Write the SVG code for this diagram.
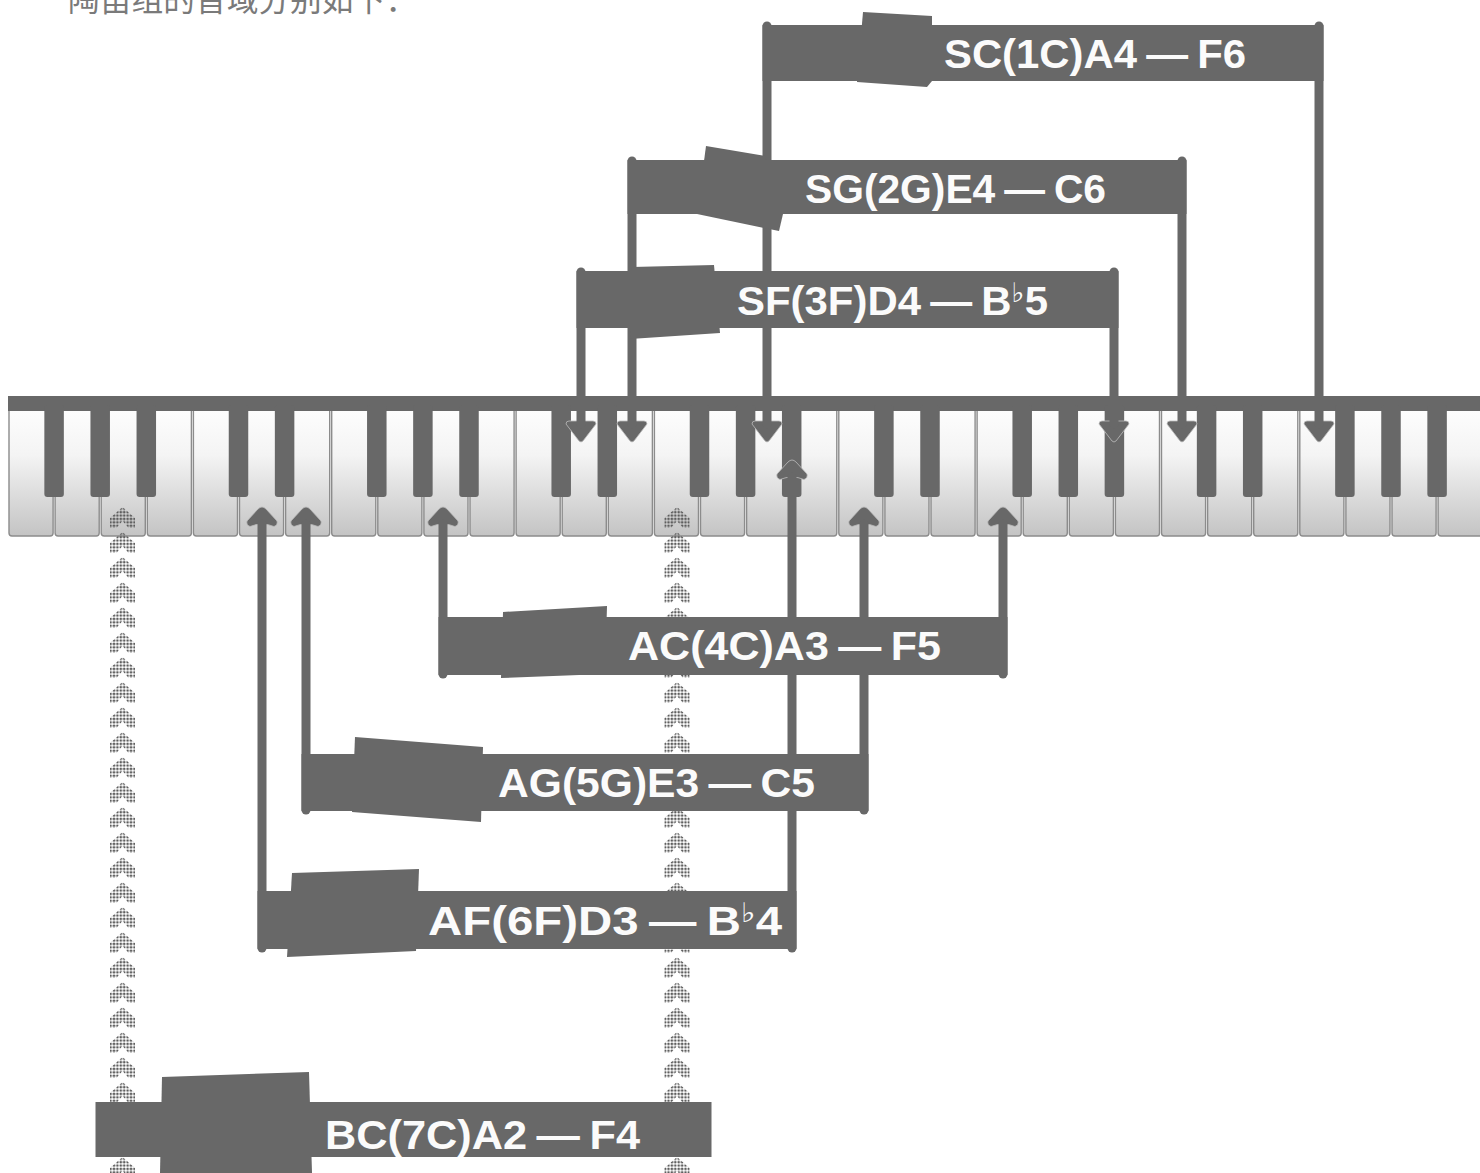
<svg xmlns="http://www.w3.org/2000/svg" xmlns:xlink="http://www.w3.org/1999/xlink" width="1480" height="1173" viewBox="0 0 1480 1173">
<style>
.wk{fill:url(#wkg);stroke:#8c8c8c;stroke-width:1.4}
.bk{fill:#686868}
.dark{fill:#686868}
.lbl{font-family:"Liberation Sans","Noto Sans",Arial,sans-serif;font-weight:bold;font-size:41px;fill:#fbfbfb}
.flat{font-family:"DejaVu Sans","Noto Sans",sans-serif;font-size:27px;font-weight:bold}
.conn{stroke:#686868;stroke-width:9;stroke-linecap:round;fill:none}
.head{fill:#686868;stroke:#bdbdbd;stroke-width:0.8}
</style>
<defs>
<linearGradient id="wkg" gradientUnits="userSpaceOnUse" x1="0" y1="411" x2="0" y2="537">
<stop offset="0" stop-color="#fdfdfd"/>
<stop offset="0.35" stop-color="#f4f4f4"/>
<stop offset="1" stop-color="#c3c3c3"/>
</linearGradient>
<pattern id="dots" patternUnits="userSpaceOnUse" width="3.4" height="3.4">
<circle cx="1.7" cy="1.7" r="1.35" fill="#5e5e5e"/>
</pattern>
<path id="chevron" d="M0,0 L12.5,11 L12.5,21 L6,21 L0,14 L-6,21 L-12.5,21 L-12.5,11 Z"/>
<pattern id="chev" patternUnits="userSpaceOnUse" x="0" y="507" width="1480" height="25">
<use xlink:href="#chevron" x="122.5" y="0" fill="url(#dots)"/>
<use xlink:href="#chevron" x="677" y="0" fill="url(#dots)"/>
</pattern>
<path id="ad" d="M-15,3 Q-15,0 -12,0 L12,0 Q15,0 15,3 L2,20 Q0,22 -2,20 Z"/>
<path id="au" d="M0,0 Q2,0 4,2 L15,14 Q16,18 12,19.5 Q6,17 0,17 Q-6,17 -12,19.5 Q-16,18 -15,14 L-4,2 Q-2,0 0,0 Z"/>
</defs>

<rect width="1480" height="1173" fill="#ffffff"/>

<text x="68" y="11" font-family="'Noto Sans CJK SC','Noto Sans',sans-serif" font-size="32" fill="#7a7a7a" textLength="349" lengthAdjust="spacingAndGlyphs">陶笛组的音域分别如下：</text>

<g id="keyboard">
<rect class="wk" x="9" y="404" width="44.1" height="132" rx="3"/>
<rect class="wk" x="55.1" y="404" width="44.1" height="132" rx="3"/>
<rect class="wk" x="101.2" y="404" width="44.1" height="132" rx="3"/>
<rect class="wk" x="147.3" y="404" width="44.1" height="132" rx="3"/>
<rect class="wk" x="193.4" y="404" width="44.1" height="132" rx="3"/>
<rect class="wk" x="239.5" y="404" width="44.1" height="132" rx="3"/>
<rect class="wk" x="285.6" y="404" width="44.1" height="132" rx="3"/>
<rect class="wk" x="331.7" y="404" width="44.1" height="132" rx="3"/>
<rect class="wk" x="377.8" y="404" width="44.1" height="132" rx="3"/>
<rect class="wk" x="423.9" y="404" width="44.1" height="132" rx="3"/>
<rect class="wk" x="470" y="404" width="44.1" height="132" rx="3"/>
<rect class="wk" x="516.1" y="404" width="44.1" height="132" rx="3"/>
<rect class="wk" x="562.2" y="404" width="44.1" height="132" rx="3"/>
<rect class="wk" x="608.3" y="404" width="44.1" height="132" rx="3"/>
<rect class="wk" x="654.4" y="404" width="44.1" height="132" rx="3"/>
<rect class="wk" x="700.5" y="404" width="44.1" height="132" rx="3"/>
<rect class="wk" x="746.6" y="404" width="44.1" height="132" rx="3"/>
<rect class="wk" x="792.7" y="404" width="44.1" height="132" rx="3"/>
<rect class="wk" x="838.8" y="404" width="44.1" height="132" rx="3"/>
<rect class="wk" x="884.9" y="404" width="44.1" height="132" rx="3"/>
<rect class="wk" x="931" y="404" width="44.1" height="132" rx="3"/>
<rect class="wk" x="977.1" y="404" width="44.1" height="132" rx="3"/>
<rect class="wk" x="1023.2" y="404" width="44.1" height="132" rx="3"/>
<rect class="wk" x="1069.3" y="404" width="44.1" height="132" rx="3"/>
<rect class="wk" x="1115.4" y="404" width="44.1" height="132" rx="3"/>
<rect class="wk" x="1161.5" y="404" width="44.1" height="132" rx="3"/>
<rect class="wk" x="1207.6" y="404" width="44.1" height="132" rx="3"/>
<rect class="wk" x="1253.7" y="404" width="44.1" height="132" rx="3"/>
<rect class="wk" x="1299.8" y="404" width="44.1" height="132" rx="3"/>
<rect class="wk" x="1345.9" y="404" width="44.1" height="132" rx="3"/>
<rect class="wk" x="1392" y="404" width="44.1" height="132" rx="3"/>
<rect class="wk" x="1438.1" y="404" width="44.1" height="132" rx="3"/>
<rect class="dark" x="8" y="396" width="1474" height="15"/>
<rect class="bk" x="44.35" y="405" width="19.5" height="92" rx="3"/>
<rect class="bk" x="90.45" y="405" width="19.5" height="92" rx="3"/>
<rect class="bk" x="136.55" y="405" width="19.5" height="92" rx="3"/>
<rect class="bk" x="228.75" y="405" width="19.5" height="92" rx="3"/>
<rect class="bk" x="274.85" y="405" width="19.5" height="92" rx="3"/>
<rect class="bk" x="367.05" y="405" width="19.5" height="92" rx="3"/>
<rect class="bk" x="413.15" y="405" width="19.5" height="92" rx="3"/>
<rect class="bk" x="459.25" y="405" width="19.5" height="92" rx="3"/>
<rect class="bk" x="551.45" y="405" width="19.5" height="92" rx="3"/>
<rect class="bk" x="597.55" y="405" width="19.5" height="92" rx="3"/>
<rect class="bk" x="689.75" y="405" width="19.5" height="92" rx="3"/>
<rect class="bk" x="735.85" y="405" width="19.5" height="92" rx="3"/>
<rect class="bk" x="781.95" y="405" width="19.5" height="92" rx="3"/>
<rect class="bk" x="874.15" y="405" width="19.5" height="92" rx="3"/>
<rect class="bk" x="920.25" y="405" width="19.5" height="92" rx="3"/>
<rect class="bk" x="1012.45" y="405" width="19.5" height="92" rx="3"/>
<rect class="bk" x="1058.55" y="405" width="19.5" height="92" rx="3"/>
<rect class="bk" x="1104.65" y="405" width="19.5" height="92" rx="3"/>
<rect class="bk" x="1196.85" y="405" width="19.5" height="92" rx="3"/>
<rect class="bk" x="1242.95" y="405" width="19.5" height="92" rx="3"/>
<rect class="bk" x="1335.15" y="405" width="19.5" height="92" rx="3"/>
<rect class="bk" x="1381.25" y="405" width="19.5" height="92" rx="3"/>
<rect class="bk" x="1427.35" y="405" width="19.5" height="92" rx="3"/>
</g>

<g id="connectors">
<rect x="108" y="507" width="584" height="666" fill="url(#chev)"/>
<use class="head" xlink:href="#ad" x="767" y="421"/>
<use class="head" xlink:href="#ad" x="1319" y="421"/>
<use class="head" xlink:href="#ad" x="632" y="421"/>
<use class="head" xlink:href="#ad" x="1182" y="421"/>
<use class="head" xlink:href="#ad" x="581" y="421"/>
<use class="head" xlink:href="#ad" x="1114" y="421"/>
<use class="head" xlink:href="#au" x="262" y="507"/>
<use class="head" xlink:href="#au" x="306" y="507"/>
<use class="head" xlink:href="#au" x="443" y="507"/>
<use class="head" xlink:href="#au" x="864" y="507"/>
<use class="head" xlink:href="#au" x="1003" y="507"/>
<use class="head" xlink:href="#au" x="792" y="460"/>
<line class="conn" x1="767" y1="26" x2="767" y2="424"/>
<line class="conn" x1="1319" y1="26" x2="1319" y2="424"/>
<line class="conn" x1="632" y1="161" x2="632" y2="424"/>
<line class="conn" x1="1182" y1="161" x2="1182" y2="424"/>
<line class="conn" x1="581" y1="272" x2="581" y2="424"/>
<line class="conn" x1="1114" y1="272" x2="1114" y2="424"/>
<line class="conn" x1="443" y1="524" x2="443" y2="674"/>
<line class="conn" x1="1003" y1="524" x2="1003" y2="674"/>
<line class="conn" x1="306" y1="524" x2="306" y2="810"/>
<line class="conn" x1="864" y1="524" x2="864" y2="810"/>
<line class="conn" x1="262" y1="524" x2="262" y2="948"/>
<line class="conn" x1="792" y1="477" x2="792" y2="948"/>
</g>

<g id="node-sc">
<polygon class="dark" points="863,12 932,16 932,81 927,87 857,82"/>
<rect class="dark" x="762.5" y="25" width="561" height="56"/>
<text class="lbl" x="944" y="68" textLength="302" lengthAdjust="spacingAndGlyphs">SC(1C)A4<tspan dx="9">—</tspan><tspan dx="9">F6</tspan></text>
</g>

<g id="node-sg">
<polygon class="dark" points="706,146 765,156 783,214 779,231 697,214"/>
<rect class="dark" x="627.5" y="160" width="559" height="54"/>
<text class="lbl" x="805" y="203" textLength="301" lengthAdjust="spacingAndGlyphs">SG(2G)E4<tspan dx="9">—</tspan><tspan dx="9">C6</tspan></text>
</g>

<g id="node-sf">
<polygon class="dark" points="632,267 714,265 720,333 630,339"/>
<rect class="dark" x="576.5" y="271" width="542" height="57"/>
<text class="lbl" x="737" y="315" textLength="311" lengthAdjust="spacingAndGlyphs">SF(3F)D4<tspan dx="9">—</tspan><tspan dx="9">B</tspan><tspan class="flat" dy="-13">♭</tspan><tspan dy="13">5</tspan></text>
</g>

<g id="node-ac">
<polygon class="dark" points="503,612 607,606 605,674 501,678"/>
<rect class="dark" x="438.5" y="617" width="569" height="58"/>
<text class="lbl" x="628" y="660" textLength="313" lengthAdjust="spacingAndGlyphs">AC(4C)A3<tspan dx="9">—</tspan><tspan dx="9">F5</tspan></text>
</g>

<g id="node-ag">
<polygon class="dark" points="355,737 483,747 481,822 352,812"/>
<rect class="dark" x="301.5" y="754" width="567" height="57"/>
<text class="lbl" x="498" y="797" textLength="317" lengthAdjust="spacingAndGlyphs">AG(5G)E3<tspan dx="9">—</tspan><tspan dx="9">C5</tspan></text>
</g>

<g id="node-af">
<polygon class="dark" points="292,873 419,869 416,951 287,957"/>
<rect class="dark" x="257.5" y="891" width="539" height="58"/>
<text class="lbl" x="428" y="935" textLength="354" lengthAdjust="spacingAndGlyphs">AF(6F)D3<tspan dx="9">—</tspan><tspan dx="9">B</tspan><tspan class="flat" dy="-13">♭</tspan><tspan dy="13">4</tspan></text>
</g>

<g id="node-bc">
<polygon class="dark" points="162,1077 309,1072 312,1173 160,1173"/>
<rect class="dark" x="95.5" y="1102" width="616" height="55"/>
<text class="lbl" x="325" y="1149" textLength="315" lengthAdjust="spacingAndGlyphs">BC(7C)A2<tspan dx="9">—</tspan><tspan dx="9">F4</tspan></text>
</g>
</svg>
